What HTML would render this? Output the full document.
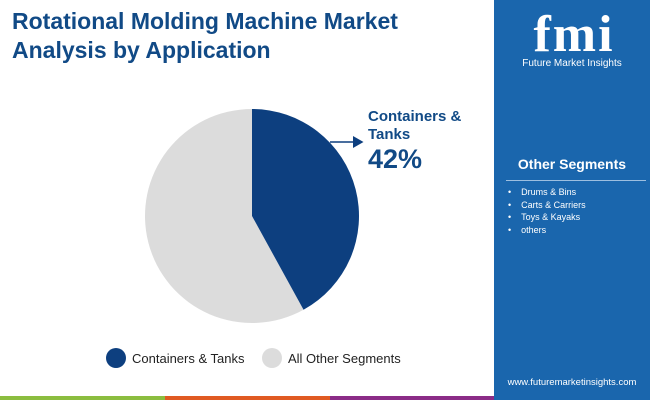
<!DOCTYPE html>
<html><head><meta charset="utf-8"><style>
body{margin:0;width:650px;height:400px;overflow:hidden;background:#fff;font-family:"Liberation Sans",sans-serif;position:relative}
.t{position:absolute;left:12px;top:7px;font-size:23px;font-weight:bold;color:#114a86;line-height:29px}
.panel{position:absolute;left:494px;top:0;width:156px;height:400px;background:#1a66ad}
.stripe{position:absolute;top:396px;height:4px}
</style></head><body>
<div class="t">Rotational Molding Machine Market<br>Analysis by Application</div>
<div class="panel">
 <div style="position:absolute;left:26px;top:12px;width:108px;height:46px;color:#fff;font:bold 52px 'Liberation Serif',serif;line-height:46px;text-align:center;letter-spacing:2px">fmi</div>
 <div style="position:absolute;left:0;width:156px;top:58px;text-align:center;color:#fff;font-size:10px">Future Market Insights</div>
 <div style="position:absolute;left:0;width:156px;top:156px;text-align:center;color:#fff;font-size:14px;font-weight:bold">Other Segments</div>
 <div style="position:absolute;left:12px;top:180px;width:140px;height:1px;background:#9dbfe0"></div>
 <div style="position:absolute;left:14px;top:186px;color:#fff;font-size:9px;line-height:12.5px">
  <div>•&nbsp;&nbsp;&nbsp;&nbsp;Drums &amp; Bins</div><div>•&nbsp;&nbsp;&nbsp;&nbsp;Carts &amp; Carriers</div><div>•&nbsp;&nbsp;&nbsp;&nbsp;Toys &amp; Kayaks</div><div>•&nbsp;&nbsp;&nbsp;&nbsp;others</div>
 </div>
 <div style="position:absolute;left:0;width:156px;top:377px;text-align:center;color:#fff;font-size:9.5px">www.futuremarketinsights.com</div>
</div>
<div class="stripe" style="left:0;width:165px;background:#8bbd3f"></div>
<div class="stripe" style="left:165px;width:165px;background:#e05a22"></div>
<div class="stripe" style="left:330px;width:164px;background:#8b2c87"></div>
<svg id="pie" width="494" height="396" style="position:absolute;left:0;top:0">
<defs><marker id="ah" markerWidth="8" markerHeight="8" refX="6" refY="4" orient="auto"><path d="M0,0L7,4L0,8z" fill="#0d3f7f"/></marker></defs>
<line x1="330" y1="142" x2="362" y2="142" stroke="#0d3f7f" stroke-width="1.5" marker-end="url(#ah)"/>
<text x="368" y="121" font-size="15" font-weight="bold" fill="#114a86" font-family="Liberation Sans">Containers &amp;</text>
<text x="368" y="139" font-size="15" font-weight="bold" fill="#114a86" font-family="Liberation Sans">Tanks</text>
<text x="368" y="168" font-size="27" font-weight="bold" fill="#114a86" font-family="Liberation Sans">42%</text>
<circle cx="116" cy="358" r="10" fill="#0d3f7f"/><text x="132" y="363" font-size="13" fill="#222" font-family="Liberation Sans">Containers &amp; Tanks</text>
<circle cx="272" cy="358" r="10" fill="#dcdcdc"/><text x="288" y="363" font-size="13" fill="#222" font-family="Liberation Sans">All Other Segments</text>
</svg>
<script>
const categories=["Containers & Tanks","All Other Segments"];
const values=[42,58];
const colors=["#0d3f7f","#dcdcdc"];
const svg=document.getElementById('pie');
const cx=252,cy=216,r=107;
const total=values.reduce((a,b)=>a+b,0);
let a0=0;
values.forEach((v,i)=>{
 const a1=a0+v/total*2*Math.PI;
 const p=(a)=>[cx+r*Math.sin(a),cy-r*Math.cos(a)];
 const [x0,y0]=p(a0),[x1,y1]=p(a1);
 const el=document.createElementNS('http://www.w3.org/2000/svg','path');
 el.setAttribute('d',`M${cx},${cy}L${x0},${y0}A${r},${r} 0 ${a1-a0>Math.PI?1:0} 1 ${x1},${y1}Z`);
 el.setAttribute('fill',colors[i]);
 
 
 svg.insertBefore(el,svg.firstChild.nextSibling);
 a0=a1;
});
</script>
</body></html>
